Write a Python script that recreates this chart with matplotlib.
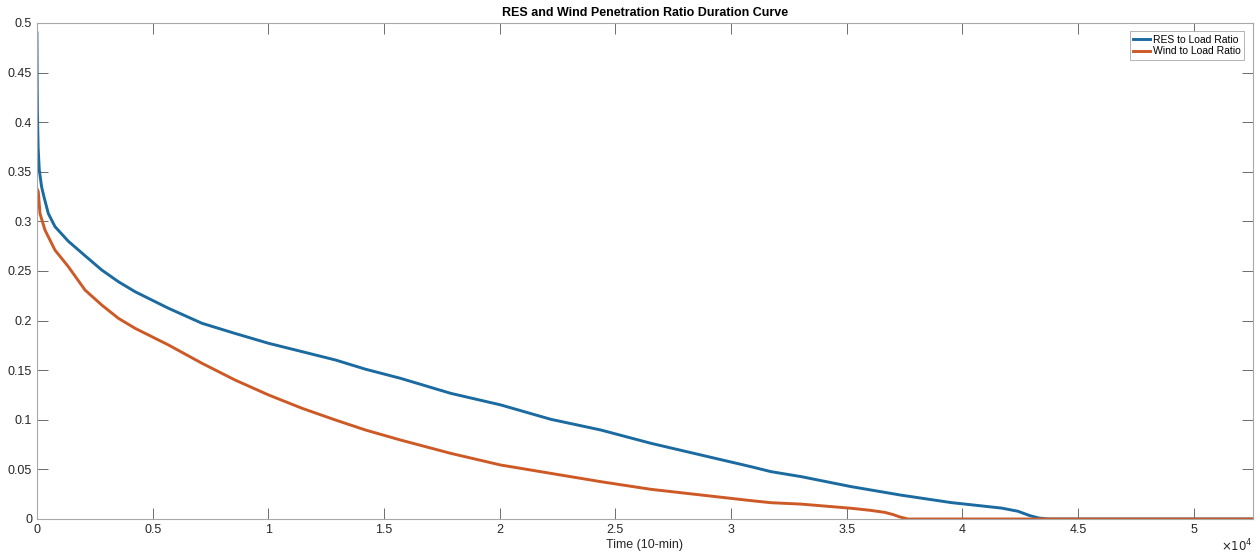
import numpy as np
import matplotlib
matplotlib.use("Agg")
import matplotlib.pyplot as plt
from matplotlib.ticker import FuncFormatter

plt.rcParams["font.family"] = ["Liberation Sans", "DejaVu Sans"]

# Duration curve values (x in 10-min steps)
res_x = [0, 10, 20, 50, 100, 200, 300, 490, 780, 1355, 2078, 2800, 3520, 4242,
         5686, 7130, 8571, 10013, 11458, 12900, 14200, 15714, 17879, 20043,
         22208, 24372, 26537, 28701, 30866, 31732, 33030, 35195, 37360, 39524,
         41688, 42400, 42900, 43300, 43700, 52560]
res_y = [0.490, 0.440, 0.410, 0.375, 0.352, 0.335, 0.325, 0.308, 0.2947, 0.280,
         0.2654, 0.251, 0.2392, 0.2291, 0.2124, 0.1973, 0.187, 0.1771, 0.1687,
         0.1603, 0.151, 0.1418, 0.1267, 0.115, 0.1005, 0.0897, 0.0763, 0.0645,
         0.0527, 0.0477, 0.0427, 0.0326, 0.024, 0.0165, 0.011, 0.0078, 0.0035,
         0.001, 0.0, 0.0]

wind_x = [0, 57, 130, 346, 780, 1355, 2078, 2800, 3520, 4242, 5686, 7130, 8571,
          10013, 11458, 12900, 14200, 15714, 17879, 20043, 22208, 24372, 26537,
          28701, 30866, 31732, 33030, 35195, 36000, 36638, 37000, 37300, 37648,
          52560]
wind_y = [0.333, 0.330, 0.308, 0.2913, 0.271, 0.2544, 0.2308, 0.2157, 0.2023,
          0.1922, 0.1754, 0.157, 0.140, 0.125, 0.1116, 0.0998, 0.0897, 0.0796,
          0.0662, 0.0544, 0.046, 0.0376, 0.0299, 0.0242, 0.0185, 0.0164, 0.015,
          0.0108, 0.0088, 0.0067, 0.0045, 0.002, 0.0, 0.0]

x_ticks = [0, 5000, 10000, 15000, 20000, 25000, 30000, 35000, 40000, 45000, 50000]
y_ticks = [0, 0.05, 0.1, 0.15, 0.2, 0.25, 0.3, 0.35, 0.4, 0.45, 0.5]

fig = plt.figure(figsize=(12.57, 5.54), dpi=100)
ax = fig.add_axes([0.0294, 0.0632, 0.9674, 0.8953])

ax.plot(res_x, res_y, color="#1b6aa0", linewidth=2.1, label="RES to Load Ratio")
ax.plot(wind_x, wind_y, color="#cd5a26", linewidth=2.1, label="Wind to Load Ratio")

ax.set_xlim(0, 52560)
ax.set_ylim(0, 0.5)
ax.set_xticks(x_ticks)
ax.set_yticks(y_ticks)
ax.xaxis.set_major_formatter(FuncFormatter(lambda v, p: "%g" % (v / 1e4)))
ax.yaxis.set_major_formatter(FuncFormatter(lambda v, p: "%g" % v))
ax.tick_params(direction="in", length=8, width=0.6, colors="#555555",
               labelcolor="#262626", labelsize=9, top=True, right=True)
for s in ax.spines.values():
    s.set_color("#a8a8a8")
    s.set_linewidth(0.8)

ax.set_title("RES and Wind Penetration Ratio Duration Curve", fontsize=9,
             fontweight="bold", color="#000000", pad=5)
ax.set_xlabel("Time (10-min)", fontsize=9, color="#262626", labelpad=2)
ax.text(1.0, -0.0645, r"$\times10^4$", transform=ax.transAxes, ha="right",
        va="baseline", fontsize=8.5, color="#262626")

leg = ax.legend(loc="upper right", fontsize=7.5, handlelength=1.6,
                handletextpad=0.25, borderpad=0.35, labelspacing=0.15,
                borderaxespad=0, fancybox=False, framealpha=1,
                edgecolor="#a8a8a8", bbox_to_anchor=(0.9926, 0.9839))
leg.get_frame().set_linewidth(0.6)

fig.savefig("out.png", dpi=100)
